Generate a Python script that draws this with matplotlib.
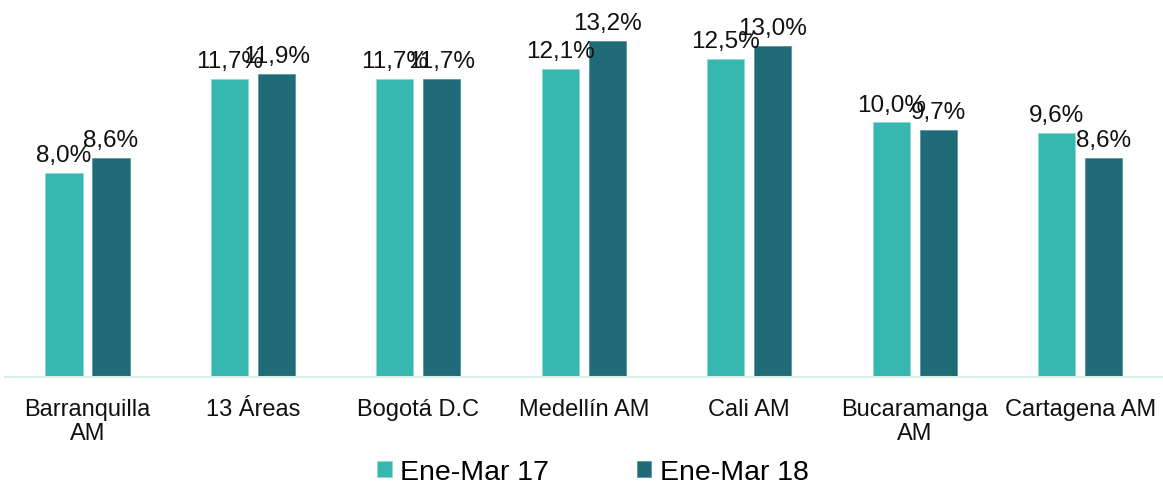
import numpy as np
import matplotlib.pyplot as plt

categories = ["Barranquilla\nAM", "13 Áreas", "Bogotá D.C", "Medellín AM",
              "Cali AM", "Bucaramanga\nAM", "Cartagena AM"]
ene_mar_17 = [8.0, 11.7, 11.7, 12.1, 12.5, 10.0, 9.6]
ene_mar_18 = [8.6, 11.9, 11.7, 13.2, 13.0, 9.7, 8.6]
series_names = ["Ene-Mar 17", "Ene-Mar 18"]

c17 = "#36B8B0"
c18 = "#1F6B78"

plt.rcParams['font.family'] = ['Liberation Sans', 'DejaVu Sans']

fig = plt.figure(figsize=(11.63, 4.85), dpi=100)
ax = fig.add_axes([0.004, 0.2206, 0.996, 0.7794])

x = np.arange(len(categories))
w = 0.225
off = 0.142

b1 = ax.bar(x - off, ene_mar_17, w, color=c17, edgecolor="#8fd8d2", linewidth=0.6,
            label=series_names[0])
b2 = ax.bar(x + off, ene_mar_18, w, color=c18, edgecolor="#5a97a1", linewidth=0.6,
            label=series_names[1])

for bars, vals in ((b1, ene_mar_17), (b2, ene_mar_18)):
    for r, v in zip(bars, vals):
        ax.annotate(f"{v:.1f}%".replace(".", ","),
                    (r.get_x() + r.get_width() / 2, v),
                    xytext=(0, 5), textcoords="offset points",
                    ha="center", va="bottom", fontsize=17.5, color="#111111")

ax.set_xlim(-0.5, len(categories) - 0.5)
ax.set_ylim(0, 14.85)
ax.set_xticks(x)
ax.set_xticklabels(categories, fontsize=17, color="#111111", linespacing=1.1)
ax.tick_params(axis="x", length=0, pad=15)
ax.set_yticks([])
for s in ["top", "right", "left"]:
    ax.spines[s].set_visible(False)
ax.spines["bottom"].set_color("#d6f0ee")
ax.spines["bottom"].set_linewidth(1.5)

fig.legend(handles=[b1, b2], labels=series_names, loc="center",
           bbox_to_anchor=(0.51, 0.025), ncol=2, frameon=False, fontsize=20.5,
           handlelength=0.5, handleheight=0.5, handletextpad=0.3,
           columnspacing=3.1, borderpad=0)

fig.savefig("out.png", dpi=100)
